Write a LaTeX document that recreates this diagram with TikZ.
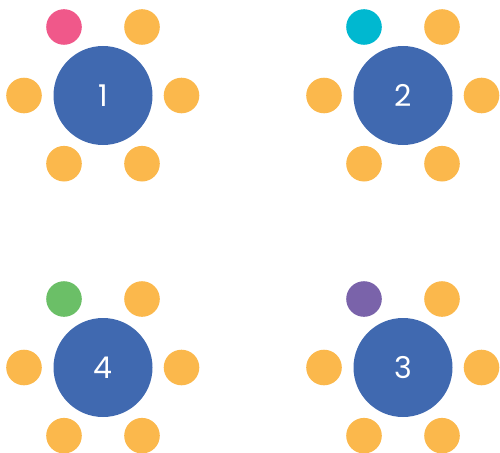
\documentclass[tikz,border=0pt]{standalone}
\usepackage{fontspec}
\setmainfont{Poppins}
\definecolor{tblue}{HTML}{4069B0}
\definecolor{seat}{HTML}{FBB84C}
\definecolor{spink}{HTML}{F0588A}
\definecolor{scyan}{HTML}{00B8D0}
\definecolor{sgreen}{HTML}{6BBF67}
\definecolor{spurple}{HTML}{7A63AA}
\tikzset{
  tablebox/.style={circle, fill=tblue, minimum size=99pt, inner sep=0pt, text=white, font=\fontsize{30}{30}\selectfont},
  seatbox/.style={circle, fill=#1, minimum size=35.6pt, inner sep=0pt},
  seatbox/.default=seat
}
\begin{document}
\begin{tikzpicture}[x=1pt,y=-1pt]
\useasboundingbox (0,0) rectangle (500,452);
\foreach \n/\cx/\cy/\c in {1/103/95.5/spink, 2/403/95.5/scyan, 4/103/367.5/sgreen, 3/403/367.5/spurple}{
  \node[tablebox] (t\n) at (\cx,\cy) {\n};
  \node[seatbox=\c] (s\n a) at (\cx-39,\cy-68.5) {};
  \node[seatbox] (s\n b) at (\cx+39,\cy-68.5) {};
  \node[seatbox] (s\n c) at (\cx-79,\cy) {};
  \node[seatbox] (s\n d) at (\cx+78.5,\cy) {};
  \node[seatbox] (s\n e) at (\cx-39,\cy+68.2) {};
  \node[seatbox] (s\n f) at (\cx+39,\cy+68.2) {};
}
\end{tikzpicture}
\end{document}
